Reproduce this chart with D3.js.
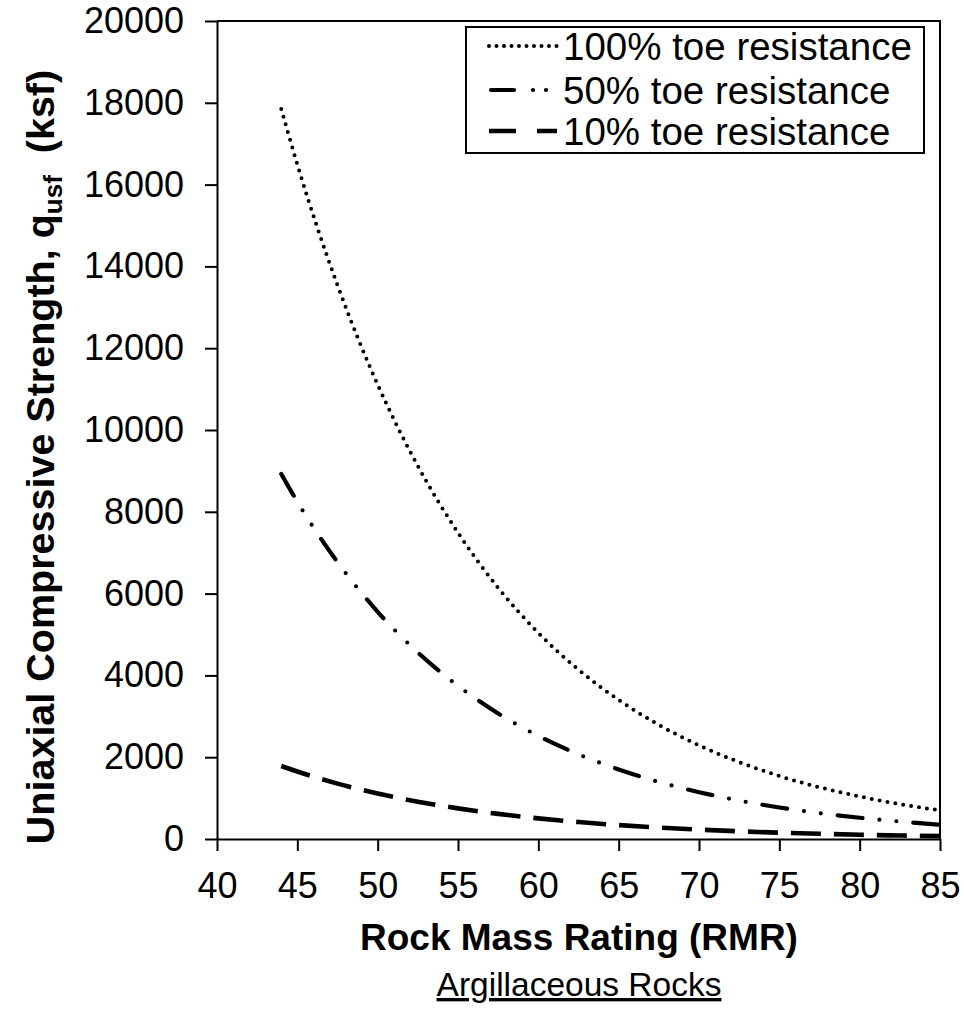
<!DOCTYPE html>
<html>
<head>
<meta charset="utf-8">
<script src="https://cdn.jsdelivr.net/npm/d3@7"></script>
<style>
  html, body { margin: 0; padding: 0; background: #fff; }
  svg { display: block; }
  text { font-family: "Liberation Sans", Arial, sans-serif; fill: #000; }
</style>
</head>
<body>
<script>
// Rock mass rating values and the required rock strength for each toe-resistance share
const rmr     = [44, 45, 47.5, 50, 52.5, 55, 57.5, 60, 62.5, 65, 67.5, 70, 72.5, 75, 77.5, 80, 82.5, 85];
const toe100  = [17850, 16490, 13540, 11110, 9120, 7490, 6140, 5040, 4140, 3400, 2790, 2290, 1880, 1540, 1265, 1040, 853, 700];
const toe50   = [8925, 8245, 6770, 5555, 4560, 3745, 3070, 2520, 2070, 1700, 1395, 1145, 940, 770, 632, 520, 427, 350];
const toe10   = [1785, 1649, 1354, 1111, 912, 749, 614, 504, 414, 340, 279, 229, 188, 154, 127, 104, 85, 70];
const seriesNames = ["100% toe resistance", "50% toe resistance", "10% toe resistance"];
const xTicks = [40, 45, 50, 55, 60, 65, 70, 75, 80, 85];
const yTicks = [0, 2000, 4000, 6000, 8000, 10000, 12000, 14000, 16000, 18000, 20000];

const W = 964, H = 1010;

const svg = d3.select("body").append("svg")
  .attr("width", W).attr("height", H);

const x = d3.scaleLinear().domain([40, 85]).range([217, 940]);
const y = d3.scaleLinear().domain([0, 20000]).range([839, 21]);

// plot frame (top and right edges)
svg.append("path")
  .attr("d", `M${x(40)},${y(20000)}H${x(85)}V${y(0)}`)
  .attr("fill", "none").attr("stroke", "#000").attr("stroke-width", 2);

// axes
const gy = svg.append("g").attr("transform", `translate(${x(40)},0)`)
  .call(d3.axisLeft(y).tickValues(yTicks).tickFormat(d3.format("d"))
    .tickSize(12).tickSizeOuter(0).tickPadding(21));
const gx = svg.append("g").attr("transform", `translate(0,${y(0)})`)
  .call(d3.axisBottom(x).tickValues(xTicks).tickFormat(d3.format("d"))
    .tickSize(12).tickSizeOuter(0).tickPadding(21));
[gx, gy].forEach(g => {
  g.selectAll("path, line").attr("stroke", "#000").attr("stroke-width", 2);
  g.selectAll("text").attr("font-size", 36).attr("font-family", "Liberation Sans, Arial, sans-serif").attr("fill", "#000");
});

// line styles per series
const styles = [
  { values: toe100, dash: "0,8", width: 4, cap: "round" },
  { values: toe50,  dash: "25,17,0,17,0,17", width: 4.2, cap: "round" },
  { values: toe10,  dash: "30,13", width: 4.6, cap: "butt" }
];

const line = d3.line()
  .x(d => x(d[0]))
  .y(d => y(d[1]))
  .curve(d3.curveMonotoneX);

svg.append("clipPath").attr("id", "plot-clip")
  .append("rect").attr("x", x(40)).attr("y", y(20000))
  .attr("width", x(85) - x(40)).attr("height", y(0) - y(20000) + 2);

svg.append("g").attr("clip-path", "url(#plot-clip)")
  .selectAll("path.series")
  .data(styles)
  .join("path")
  .attr("class", "series")
  .attr("d", s => line(rmr.map((r, i) => [r, s.values[i]])))
  .attr("fill", "none")
  .attr("stroke", "#000")
  .attr("stroke-width", s => s.width)
  .attr("stroke-linecap", s => s.cap)
  .attr("stroke-dasharray", s => s.dash);

// legend
const legend = svg.append("g");
legend.append("rect")
  .attr("x", 466).attr("y", 27)
  .attr("width", 458).attr("height", 126)
  .attr("fill", "#fff").attr("stroke", "#000").attr("stroke-width", 2);
const legendDash = ["0,7.5", "23,19,0,13,0,30", "27,21"];
const legendStart = [489, 491, 489];
const rowY = [46, 90, 131];
seriesNames.forEach((name, i) => {
  legend.append("line")
    .attr("x1", legendStart[i]).attr("x2", 557)
    .attr("y1", rowY[i]).attr("y2", rowY[i])
    .attr("stroke", "#000")
    .attr("stroke-width", styles[i].width)
    .attr("stroke-linecap", styles[i].cap)
    .attr("stroke-dasharray", legendDash[i]);
  legend.append("text")
    .attr("x", 563).attr("y", rowY[i] + 13.5)
    .attr("font-size", 38.5)
    .text(name);
});

// axis titles
svg.append("text")
  .attr("x", 579).attr("y", 950)
  .attr("text-anchor", "middle")
  .attr("font-size", 37).attr("font-weight", "bold")
  .text("Rock Mass Rating (RMR)");

const yt = svg.append("text")
  .attr("transform", "translate(54,457) rotate(-90)")
  .attr("text-anchor", "middle")
  .attr("font-size", 39.5).attr("font-weight", "bold");
yt.append("tspan").text("Uniaxial Compressive Strength, q");
yt.append("tspan").attr("font-size", 26).attr("dy", 8).text("usf");
yt.append("tspan").attr("dy", -8).text("\u00a0\u00a0(ksf)");

// caption under the chart
svg.append("text")
  .attr("x", 579).attr("y", 996)
  .attr("text-anchor", "middle")
  .attr("font-size", 33.5)
  .attr("text-decoration", "underline")
  .text("Argillaceous Rocks");
</script>
</body>
</html>
